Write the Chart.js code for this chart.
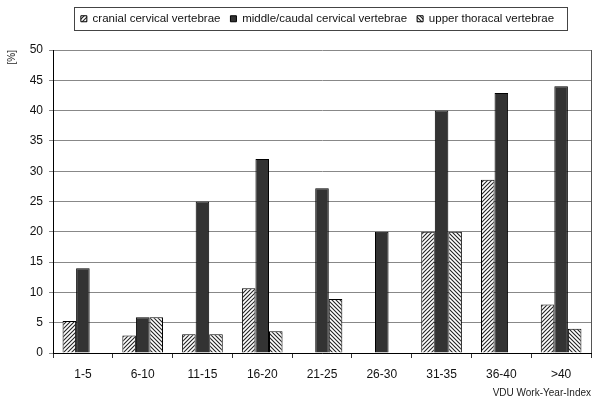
<!DOCTYPE html>
<html>
<head>
<meta charset="utf-8">
<script src="https://cdn.jsdelivr.net/npm/chart.js@4/dist/chart.umd.min.js"></script>
<style>
  html, body { margin: 0; padding: 0; background: #fff; }
  #wrap { width: 600px; height: 403px; }
</style>
</head>
<body>
<div id="wrap"><canvas id="chart" width="600" height="403"></canvas></div>
<script>
const categories = ['1-5', '6-10', '11-15', '16-20', '21-25', '26-30', '31-35', '36-40', '>40'];
const cranial = [5.3, 2.9, 3.1, 10.7, 0, 0, 20, 28.6, 8];
const middleCaudal = [14, 5.9, 25, 32, 27.2, 20, 40, 42.9, 44];
const upperThoracal = [0, 5.9, 3.1, 3.6, 8.9, 0, 20, 0, 4];
const yTicks = [0, 5, 10, 15, 20, 25, 30, 35, 40, 45, 50];

const canvas = document.querySelector('#chart');

// hatch fill, dir 1 = "/", dir -1 = "\"
const hatch = (dir) => {
  const s = 4;
  const c = document.createElement('canvas');
  c.width = s; c.height = s;
  const g = c.getContext('2d');
  g.fillStyle = '#fff';
  g.fillRect(0, 0, s, s);
  g.strokeStyle = '#222';
  g.lineWidth = 1.1;
  g.beginPath();
  if (dir > 0) {
    g.moveTo(0, s); g.lineTo(s, 0);
    g.moveTo(-1, 1); g.lineTo(1, -1);
    g.moveTo(s - 1, s + 1); g.lineTo(s + 1, s - 1);
  } else {
    g.moveTo(0, 0); g.lineTo(s, s);
    g.moveTo(-1, s - 1); g.lineTo(1, s + 1);
    g.moveTo(s - 1, -1); g.lineTo(s + 1, 1);
  }
  g.stroke();
  return canvas.getContext('2d').createPattern(c, 'repeat');
};

const frame = {
  id: 'frame',
  beforeInit(chart) {
    const fit = chart.legend.fit;
    chart.legend.fit = function () {
      fit.call(this);
      this.height = 50;
    };
  },
  afterLayout(chart) {
    // legend sits a little right of centre in the original
    const lg = chart.legend;
    lg.left += 22; lg.right += 22;
    lg.top += 3; lg.bottom += 3;
  },
  afterDraw(chart) {
    const ctx = chart.ctx;
    const a = chart.chartArea;
    ctx.save();
    ctx.strokeStyle = '#555';
    ctx.lineWidth = 1;
    ctx.beginPath();
    ctx.moveTo(Math.round(a.right) + 0.5, a.top);
    ctx.lineTo(Math.round(a.right) + 0.5, a.bottom);
    ctx.stroke();
    // legend border
    const boxes = chart.legend.legendHitBoxes;
    if (boxes && boxes.length) {
      const l = boxes[0].left - 7;
      const last = boxes[boxes.length - 1];
      const r = last.left + last.width + 13;
      ctx.strokeStyle = '#444';
      ctx.strokeRect(Math.round(l) + 0.5, 7.5, Math.round(r - l), 23);
    }
    ctx.restore();
  }
};

new Chart(canvas, {
  type: 'bar',
  data: {
    labels: categories,
    datasets: [{
      label: 'cranial cervical vertebrae',
      data: cranial,
      backgroundColor: hatch(1),
      borderColor: '#000',
      borderWidth: 1
    }, {
      label: 'middle/caudal cervical vertebrae',
      data: middleCaudal,
      backgroundColor: '#333',
      borderColor: '#000',
      borderWidth: 1
    }, {
      label: 'upper thoracal vertebrae',
      data: upperThoracal,
      backgroundColor: hatch(-1),
      borderColor: '#000',
      borderWidth: 1
    }]
  },
  options: {
    responsive: false,
    animation: false,
    layout: { padding: { right: 9, left: 0, top: 0, bottom: 0 } },
    datasets: { bar: { categoryPercentage: 0.68, barPercentage: 1 } },
    plugins: {
      legend: {
        position: 'top',
        labels: {
          boxWidth: 6,
          boxHeight: 6,
          padding: 10,
          color: '#111',
          font: { family: 'Liberation Sans', size: 11.5 }
        }
      },
      tooltip: { enabled: false }
    },
    scales: {
      x: {
        grid: { display: true, drawOnChartArea: false, offset: true, tickLength: 5, color: '#333' },
        border: { color: '#000' },
        ticks: { color: '#111', padding: 9, font: { family: 'Liberation Sans', size: 12 } },
        title: {
          display: true, text: 'VDU Work-Year-Index', align: 'end', color: '#222',
          font: { family: 'Liberation Sans', size: 10 }, padding: { top: 0, bottom: 4 }
        },
        afterFit(scale) { scale.height = 50; }
      },
      y: {
        min: 0, max: 50,
        afterBuildTicks(scale) { scale.ticks = yTicks.map(v => ({ value: v })); },
        grid: { color: '#888', tickLength: 4 },
        border: { color: '#000' },
        ticks: { color: '#111', padding: 6, font: { family: 'Liberation Sans', size: 12 } },
        title: {
          display: true, text: '[%]', align: 'end', color: '#222',
          font: { family: 'Liberation Sans', size: 10 }, padding: { top: 6, bottom: 0 }
        },
        afterFit(scale) { scale.width = 53; }
      }
    }
  },
  plugins: [frame]
});
</script>
</body>
</html>
